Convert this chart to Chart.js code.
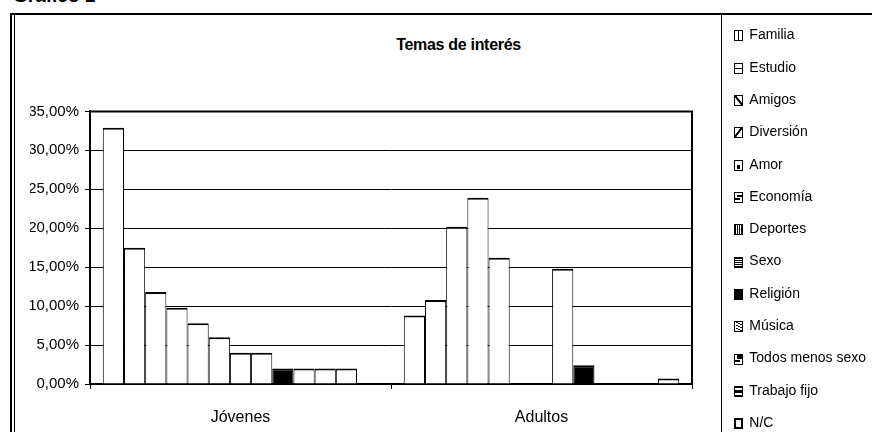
<!DOCTYPE html>
<html>
<head>
<meta charset="utf-8">
<script src="https://cdn.jsdelivr.net/npm/chart.js@4"></script>
<style>
  html, body { margin: 0; padding: 0; background: #fff; overflow: hidden; }
  body { width: 872px; height: 432px; position: relative; font-family: 'Liberation Sans', Arial, sans-serif; }
  .line { position: absolute; background: #000; }
  #heading { position: absolute; left: 13px; top: -14px; font-size: 19px; font-weight: bold; line-height: 19px; white-space: nowrap; }
  #title { position: absolute; left: 0; width: 917px; top: 37px; text-align: center; font-size: 16px; font-weight: bold; line-height: 16px; letter-spacing: -0.3px; white-space: nowrap; }
  #chart { position: absolute; left: 0; top: 0; }
</style>
</head>
<body>
<div id="heading">Gráfico 1</div>
<div class="line" style="left:10px;top:13px;width:2px;height:420px"></div>
<div class="line" style="left:14px;top:14px;width:1px;height:420px"></div>
<div class="line" style="left:10px;top:13px;width:862px;height:2px"></div>
<div class="line" style="left:721px;top:14px;width:1px;height:420px"></div>
<div id="title">Temas de interés</div>
<canvas id="chart" width="900" height="480"></canvas>
<script>
// Chart data
const categories = ['Jóvenes', 'Adultos'];
const topics = ['Familia', 'Estudio', 'Amigos', 'Diversión', 'Amor', 'Economía', 'Deportes',
  'Sexo', 'Religión', 'Música', 'Todos menos sexo', 'Trabajo fijo', 'N/C'];
const jovenes = [32.9, 17.5, 11.8, 9.8, 7.8, 6.0, 4.0, 4.0, 2.0, 2.0, 2.0, 2.0, 0];
const adultos = [8.8, 10.8, 20.2, 23.9, 16.2, 0, 0, 14.8, 2.4, 0, 0, 0, 0.7];
const yTicks = [0, 5, 10, 15, 20, 25, 30, 35];

Chart.defaults.font.family = "'Liberation Sans', Arial, sans-serif";
Chart.defaults.color = '#000';

// little hatched legend keys: black 9x11 box, white / black pattern inside
const white = '#fff', black = '#000';
const iconPatterns = [
  g => { g.fillStyle = white; g.fillRect(1, 1, 3, 9); g.fillRect(5, 1, 3, 9); },
  g => { g.fillStyle = white; g.fillRect(1, 1, 7, 4); g.fillRect(1, 6, 7, 4); },
  g => { g.fillStyle = white; g.fillRect(1, 1, 7, 9); g.fillStyle = black; for (let i = 0; i < 7; i++) g.fillRect(1 + i, 1 + i * 1.3, 2, 2); },
  g => { g.fillStyle = white; g.fillRect(1, 1, 7, 9); g.fillStyle = black; for (let i = 0; i < 7; i++) g.fillRect(6 - i, 1 + i * 1.3, 2, 2); },
  g => { g.fillStyle = white; g.fillRect(1, 1, 7, 9); g.fillStyle = black; g.fillRect(3, 5, 3, 4); },
  g => { g.fillStyle = white; g.fillRect(1, 1, 7, 9); g.fillStyle = black; g.fillRect(3, 3, 5, 2); g.fillRect(1, 6, 5, 2); },
  g => { g.fillStyle = white; g.fillRect(2, 1, 1, 9); g.fillRect(4, 1, 1, 9); g.fillRect(6, 1, 1, 9); },
  g => { g.fillStyle = white; for (let y = 2; y < 10; y += 2) g.fillRect(1, y, 7, 1); },
  g => {},
  g => { g.fillStyle = white; g.fillRect(1, 1, 7, 9); g.fillStyle = black; for (let i = 0; i < 9; i++) g.fillRect(2 + (i % 3) * 2, 1 + i, 2, 1); },
  g => { g.fillStyle = white; g.fillRect(1, 1, 7, 9); g.fillStyle = black; g.fillRect(3, 1, 5, 4); g.fillRect(1, 6, 5, 2); },
  g => { g.fillStyle = white; g.fillRect(1, 2, 7, 2); g.fillRect(1, 7, 7, 2); },
  g => { g.fillStyle = white; g.fillRect(2, 2, 5, 7); }
];

const icons = iconPatterns.map(draw => {
  const c = document.createElement('canvas');
  c.width = 34;
  c.height = 12;
  const g = c.getContext('2d');
  g.translate(25, 1);
  g.fillStyle = black;
  g.fillRect(0, 0, 9, 11);
  draw(g);
  return c;
});

// keep the legend keys crisp
const crispKeys = {
  id: 'crispKeys',
  beforeDraw(chart) { chart.ctx.imageSmoothingEnabled = false; }
};

// right and top edges of the plot frame
const plotFrame = {
  id: 'plotFrame',
  afterDatasetsDraw(chart) {
    const { ctx, chartArea: a } = chart;
    ctx.save();
    ctx.strokeStyle = '#000';
    ctx.lineWidth = 2;
    ctx.beginPath();
    ctx.moveTo(a.left, a.top);
    ctx.lineTo(a.right, a.top);
    ctx.lineTo(a.right, a.bottom);
    ctx.stroke();
    ctx.restore();
  }
};

new Chart(document.getElementById('chart'), {
  type: 'bar',
  data: {
    labels: categories,
    datasets: topics.map((name, i) => ({
      label: name,
      data: [jovenes[i], adultos[i]],
      backgroundColor: name === 'Religión' ? '#000' : '#fff',
      borderColor: '#000',
      borderWidth: { top: 2, left: 1, right: 1, bottom: 0 },
      categoryPercentage: 0.915,
      barPercentage: 1
    }))
  },
  options: {
    responsive: false,
    animation: false,
    layout: { padding: { top: 10, left: 30, right: 28, bottom: 16 } },
    plugins: {
      title: { display: true, text: '', fullSize: false, padding: { top: 0, bottom: 87 }, font: { size: 12, lineHeight: 1.2 } },
      tooltip: { enabled: false },
      legend: {
        position: 'right',
        align: 'start',
        maxWidth: 180,
        labels: {
          usePointStyle: true,
          pointStyleWidth: 32,
          padding: 18.33,
          color: '#000',
          font: { size: 14 },
          generateLabels: chart => chart.data.datasets.map((ds, i) => ({
            text: ds.label,
            pointStyle: icons[i],
            datasetIndex: i,
            hidden: false,
            lineWidth: 0,
            fontColor: '#000'
          }))
        }
      }
    },
    scales: {
      x: {
        offset: true,
        grid: { display: true, offset: true, drawOnChartArea: false, tickLength: 5, color: '#000', lineWidth: 1 },
        border: { color: '#000', width: 2 },
        ticks: { color: '#000', padding: 19, font: { size: 16 } },
        afterFit: s => { s.height = 80; }
      },
      y: {
        min: 0,
        max: 35,
        afterBuildTicks: s => { s.ticks = yTicks.map(v => ({ value: v })); },
        grid: { color: '#000', lineWidth: 1, tickLength: 5 },
        border: { color: '#000', width: 2 },
        ticks: {
          color: '#000',
          padding: 6,
          font: { size: 15 },
          callback: v => v.toFixed(2).replace('.', ',') + '%'
        },
        afterFit: s => { s.width = 60; }
      }
    }
  },
  plugins: [crispKeys, plotFrame]
});
</script>
</body>
</html>
